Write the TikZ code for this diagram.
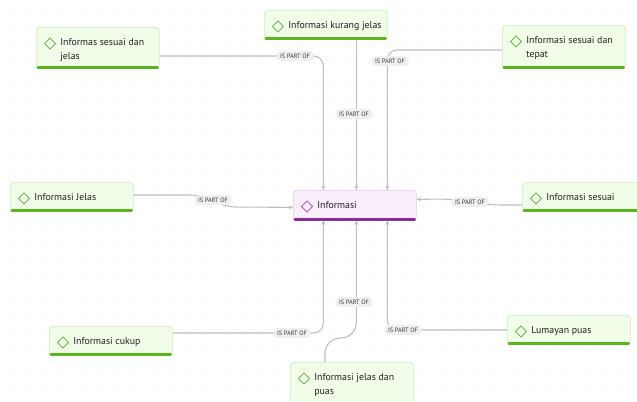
\documentclass[tikz,border=0pt]{standalone}
\usepackage{fontspec}
\setmainfont{PT Sans}
\usetikzlibrary{calc,arrows.meta}

\definecolor{gfill}{HTML}{F1FCE9}
\definecolor{gedge}{HTML}{CDEDB8}
\definecolor{gbarc}{HTML}{5BB51F}
\definecolor{giconc}{HTML}{6DB84A}
\definecolor{pfill}{HTML}{F9EEFA}
\definecolor{pedge}{HTML}{E3C8EA}
\definecolor{pbarc}{HTML}{8C2B9E}
\definecolor{piconc}{HTML}{A45DB5}
\definecolor{linkc}{HTML}{BDBDBD}
\definecolor{lblfill}{HTML}{EFEFEF}
\definecolor{griddot}{HTML}{D6D6D6}

\def\pxu{0.025cm}
\tikzset{
  gbox/.style={draw=gedge, fill=gfill, rounded corners=2.5pt, line width=0.5pt,
    anchor=north west, minimum width=123*\pxu, inner sep=0pt},
  pbox/.style={gbox, draw=pedge, fill=pfill},
  gbar/.style={draw=gbarc, line width=2.1pt, line cap=round},
  pbar/.style={gbar, draw=pbarc},
  gicon/.style={draw=giconc, line width=0.6pt, rotate=45, minimum size=5.6pt, inner sep=0pt},
  picon/.style={gicon, draw=piconc},
  itext/.style={anchor=north west, inner sep=0pt, align=left, text=black!88,
    font=\fontsize{7}{9.9}\selectfont},
  link/.style={draw=linkc, line width=0.75pt, rounded corners=7pt,
    -{Stealth[length=3pt,width=3pt]}},
  lbl/.style={fill=lblfill, rounded corners=2.5pt, inner xsep=2.5pt, inner ysep=1.8pt,
    text=black!78, font=\fontsize{4.5}{4.5}\selectfont}
}

% #1 colour prefix, #2 name, #3 x, #4 y, #5 height, #6 text
\newcommand\infobox[6][g]{%
  \node[#1box, minimum height=#5*\pxu] (#2) at (#3,#4) {};
  \draw[#1bar] ([xshift=1.4pt,yshift=1.1pt]#2.south west) -- ([xshift=-1.4pt,yshift=1.1pt]#2.south east);
  \node[#1icon] (#2i) at ($(#2.north west)+(14,16.5)$) {};
  \node[itext] (#2t) at ($(#2.north west)+(24,11.5)$) {#6};
}

\begin{document}
\begin{tikzpicture}[x=0.025cm, y=-0.025cm]
  \useasboundingbox (0,0) rectangle (637,401);

  % dotted canvas
  \foreach \gx in {9,27,...,637}
    \foreach \gy in {9,27,...,401}
      \fill[griddot] (\gx,\gy) circle (0.45pt);

  % boxes
  \infobox{sdj}{36}{27}{41}{Informas sesuai dan\\jelas}
  \infobox{kj}{264}{10}{29}{Informasi kurang jelas}
  \infobox{sdt}{502}{25}{43}{Informasi sesuai dan\\tepat}
  \infobox{ij}{10}{182}{29}{Informasi Jelas}
  \infobox[p]{info}{293}{190}{30}{Informasi}
  \infobox{is}{522}{182}{29}{Informasi sesuai}
  \infobox{ic}{49}{326}{29}{Informasi cukup}
  \infobox{lp}{507}{315}{29}{Lumayan puas}
  \infobox{ijp}{290}{362}{45}{Informasi jelas dan\\puas}

  % entry points on Informasi
  \coordinate (nl) at ($(info.north)+(-31.5,0)$);
  \coordinate (nm) at ($(info.north)+(1.5,0)$);
  \coordinate (nr) at ($(info.north)+(32.5,0)$);
  \coordinate (sl) at ($(info.south)+(-31.5,0)$);
  \coordinate (sm) at ($(info.south)+(1.5,0)$);
  \coordinate (sr) at ($(info.south)+(32.5,0)$);

  % connectors
  \draw[link] ($(sdj.north east)+(0,29)$) -| (nl);
  \draw[link] (nm |- kj.south) -- (nm);
  \draw[link] ($(sdt.north west)+(0,25)$) -| (nr);
  \draw[link] ($(ij.north east)+(0,13)$) -- (200,195) -- (226,207) -- ($(info.west)+(0,2)$);
  \draw[link] ($(is.north west)+(0,23)$) -- (492,205) -- (450,199) -- ($(info.east)+(0,-6)$);
  \draw[link] ($(ic.north east)+(0,7)$) -| (sl);
  \draw[link, rounded corners=11pt] ($(ijp.north west)+(35,0)$) -- (325,338) -- (sm |- 0,338) -- (sm);
  \draw[link] ($(lp.north west)+(0,15)$) -| (sr);

  % labels
  \node[lbl] (l1) at (295,56) {IS PART OF};
  \node[lbl] (l2) at (354,114) {IS PART OF};
  \node[lbl] (l3) at (390,61) {IS PART OF};
  \node[lbl] (l4) at (213,200) {IS PART OF};
  \node[lbl] (l5) at (470,202) {IS PART OF};
  \node[lbl] (l6) at (292,333) {IS PART OF};
  \node[lbl] (l7) at (354,302) {IS PART OF};
  \node[lbl] (l8) at (403,330) {IS PART OF};
\end{tikzpicture}
\end{document}
